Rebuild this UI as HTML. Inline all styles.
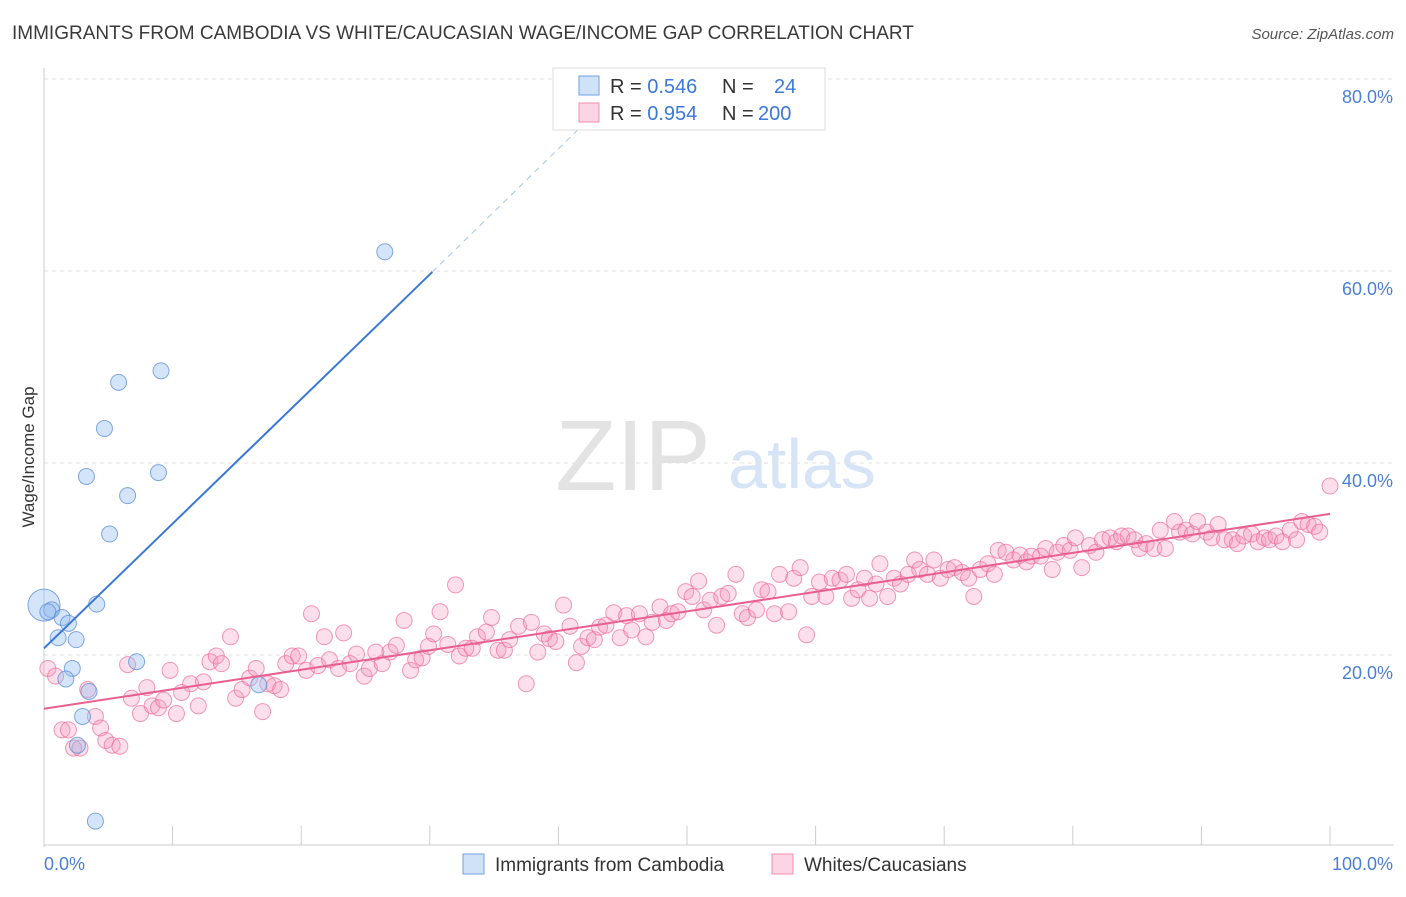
<!DOCTYPE html>
<html><head><meta charset="utf-8"><style>
body{margin:0;background:#fff;font-family:"Liberation Sans",sans-serif;}
svg text{font-family:"Liberation Sans",sans-serif;}
</style></head><body>
<svg id="chart" width="1406" height="892" viewBox="0 0 1406 892">
<text x="12" y="39" font-size="19" fill="#3a3a3a">IMMIGRANTS FROM CAMBODIA VS WHITE/CAUCASIAN WAGE/INCOME GAP CORRELATION CHART</text>
<text x="1394" y="39" font-size="15" font-style="italic" fill="#555" text-anchor="end">Source: ZipAtlas.com</text>
<g>
<text x="633" y="490" font-size="100" font-family="Liberation Serif,serif" fill="#e3e3e3" text-anchor="middle">ZIP</text>
<text x="802" y="488" font-size="70" fill="#d6e4f5" text-anchor="middle">atlas</text>
</g>
<g id="grid"></g>
<g id="axes"></g>
<g id="marks"></g>
<text transform="translate(34,457) rotate(-90)" font-size="17" fill="#333" text-anchor="middle">Wage/Income Gap</text>
<g>
<rect x="553" y="68" width="272" height="62" fill="#fff" stroke="#ddd"/>
<rect x="579" y="76" width="20" height="19" fill="rgba(150,190,240,0.45)" stroke="#6fa0e0"/>
<rect x="579" y="103" width="20" height="19" fill="rgba(244,150,185,0.4)" stroke="#f08cb0"/>
<text x="610" y="93" font-size="20" fill="#333">R = <tspan fill="#3c78d8">0.546</tspan><tspan x="722">N =</tspan><tspan x="774" fill="#3c78d8">24</tspan></text>
<text x="610" y="120" font-size="20" fill="#333">R = <tspan fill="#3c78d8">0.954</tspan><tspan x="722">N =</tspan><tspan x="758" fill="#3c78d8">200</tspan></text>
</g>
<g>
<rect x="463" y="854" width="21" height="20" fill="rgba(150,190,240,0.45)" stroke="#6fa0e0"/>
<text x="495" y="871" font-size="19" fill="#333">Immigrants from Cambodia</text>
<rect x="772" y="854" width="21" height="20" fill="rgba(244,150,185,0.4)" stroke="#f08cb0"/>
<text x="804" y="871" font-size="19" fill="#333">Whites/Caucasians</text>
</g>
</svg>
<script>
const yTicks=[20,40,60,80];
const yTickLabels=["20.0%","40.0%","60.0%","80.0%"];
const xTickLabels=["0.0%","100.0%"];
const blueX=[0,0.6,1.1,1.4,1.9,2.2,1.7,2.5,3.3,4.1,4.7,5.1,5.8,6.5,8.9,9.1,7.2,3.5,3.0,2.6,4.0,16.7,26.5,0.3];
const blueY=[25.2,24.7,21.8,23.9,23.3,18.6,17.5,21.6,38.6,25.3,43.6,32.6,48.4,36.6,39.0,49.6,19.3,16.2,13.6,10.6,2.7,16.9,62.0,24.5];
const pinkX=[0.3,0.9,1.4,1.9,2.3,2.8,3.4,4.0,4.4,4.8,5.3,5.9,6.5,6.8,7.5,8.0,8.4,8.9,9.3,9.8,10.3,10.7,11.4,12.0,12.4,12.9,13.4,13.8,14.5,14.9,15.4,16.0,16.5,17.0,17.4,17.9,18.4,18.8,19.3,19.8,20.4,20.8,21.3,21.8,22.2,22.9,23.3,23.8,24.3,24.9,25.3,25.8,26.3,26.9,27.4,28.0,28.5,28.9,29.4,29.9,30.3,30.8,31.4,32.0,32.3,32.8,33.3,33.7,34.4,34.8,35.3,35.8,36.2,36.9,37.5,37.9,38.4,38.9,39.3,39.8,40.4,40.9,41.4,41.8,42.3,42.8,43.2,43.7,44.3,44.8,45.3,45.7,46.3,46.8,47.3,47.9,48.4,48.8,49.3,49.9,50.4,50.9,51.3,51.8,52.3,52.7,53.2,53.8,54.3,54.7,55.4,55.8,56.3,56.8,57.2,57.9,58.3,58.8,59.3,59.7,60.3,60.8,61.3,61.9,62.4,62.8,63.3,63.8,64.2,64.7,65.0,65.6,66.1,66.6,67.2,67.7,68.1,68.7,69.2,69.7,70.3,70.8,71.4,71.9,72.3,72.8,73.4,73.9,74.2,74.8,75.4,75.9,76.4,76.8,77.5,77.9,78.4,78.8,79.3,79.8,80.2,80.7,81.3,81.8,82.3,82.9,83.4,83.8,84.3,84.8,85.2,85.7,86.3,86.8,87.2,87.9,88.3,88.8,89.3,89.7,90.4,90.8,91.3,91.8,92.4,92.8,93.3,93.9,94.4,94.9,95.3,95.8,96.3,96.9,97.4,97.8,98.3,98.8,99.2,100];
const pinkY=[18.6,17.8,12.2,12.2,10.3,10.3,16.4,13.6,12.4,11.1,10.6,10.5,19.0,15.5,13.9,16.6,14.7,14.5,15.3,18.4,13.9,16.1,17.0,14.7,17.2,19.3,19.9,19.1,21.9,15.5,16.4,17.6,18.6,14.1,17.0,16.8,16.4,19.1,19.9,19.9,18.4,24.3,18.9,21.9,19.5,18.6,22.3,19.1,20.1,17.8,18.6,20.3,19.1,20.3,21.0,23.6,18.4,19.5,19.7,20.9,22.2,24.5,21.1,27.3,19.9,20.7,20.7,21.9,22.4,23.9,20.5,20.5,21.6,23.0,17.0,23.4,20.3,22.2,21.7,21.4,25.2,23.0,19.2,20.9,21.8,21.6,22.9,23.1,24.4,21.8,24.1,22.6,24.3,21.9,23.4,25.0,23.6,24.3,24.5,26.6,26.1,27.7,24.7,25.7,23.1,26.1,26.4,28.4,24.3,23.9,24.7,26.8,26.6,24.3,28.4,24.5,28.0,29.1,22.1,26.1,27.6,26.1,28.0,27.8,28.4,25.9,26.8,28.0,25.9,27.4,29.5,26.1,28.0,27.4,28.4,29.9,28.9,28.4,29.9,28.0,28.9,29.1,28.6,28.0,26.1,28.9,29.5,28.4,30.9,30.7,29.9,30.4,29.7,30.3,30.3,31.1,28.9,30.7,31.4,30.9,32.2,29.1,31.4,30.7,32.0,32.2,31.8,32.4,32.4,32.0,31.1,31.6,31.1,33.0,31.1,33.9,32.8,33.0,32.6,33.9,32.8,32.2,33.6,32.0,32.0,31.6,32.4,32.6,31.8,32.2,32.0,32.4,31.8,33.0,32.0,33.9,33.6,33.4,32.8,37.6];
const blueLine=[0,20.7,30.2,59.9];
const blueDash=[30.2,59.9,42.5,76.0];
const pinkLine=[0,14.4,100,34.7];

const NS="http://www.w3.org/2000/svg";
const X0=44,X1=1330,Y0=847,PX=9.6;
const sx=v=>X0+(X1-X0)*v/100, sy=v=>Y0-v*PX;
function mk(tag,at,parent){const e=document.createElementNS(NS,tag);for(const k in at)e.setAttribute(k,at[k]);parent.appendChild(e);return e;}
const grid=document.getElementById('grid'),axes=document.getElementById('axes'),marks=document.getElementById('marks');
yTicks.forEach((t,i)=>{
 const l=mk('line',{x1:X0,x2:1394,y1:sy(t),y2:sy(t),stroke:'#e2e2e2','stroke-dasharray':'4,4'},grid);
 
 
 const tx=mk('text',{x:1393,y:sy(t)+24,'font-size':18,fill:'#4a7fd4','text-anchor':'end'},axes);
 tx.textContent=yTickLabels[i];
 
 
});
mk('line',{x1:X0,x2:X0,y1:68,y2:Y0,stroke:'#ccc'},axes);
mk('line',{x1:X0,x2:1394,y1:845,y2:845,stroke:'#ccc'},axes);
for(let i=0;i<=10;i++){const x=sx(i*10);mk('line',{x1:x,x2:x,y1:826,y2:845,stroke:'#ccc'},axes);}
const xl0=mk('text',{x:44,y:870,'font-size':18,fill:'#4a7fd4'},axes);xl0.textContent=xTickLabels[0];


const xl1=mk('text',{x:1393,y:870,'font-size':18,fill:'#4a7fd4','text-anchor':'end'},axes);xl1.textContent=xTickLabels[1];


pinkX.forEach((v,i)=>{
 const c=mk('circle',{cx:sx(v),cy:sy(pinkY[i]),r:8,fill:'rgba(244,150,185,0.3)',stroke:'rgba(236,110,155,0.7)','stroke-width':1},marks);
 
 
});
blueX.forEach((v,i)=>{
 const c=mk('circle',{cx:sx(v),cy:sy(blueY[i]),r:i===0?16:8,fill:'rgba(150,190,240,0.4)',stroke:'rgba(90,140,215,0.75)','stroke-width':1},marks);
 
 
});
const bl=mk('line',{x1:sx(blueLine[0]),y1:sy(blueLine[1]),x2:sx(blueLine[2]),y2:sy(blueLine[3]),stroke:'#3c78d8','stroke-width':2},marks);


const bd=mk('line',{x1:sx(blueDash[0]),y1:sy(blueDash[1]),x2:sx(blueDash[2]),y2:sy(blueDash[3]),stroke:'#a9c3ea','stroke-width':1,'stroke-dasharray':'6,5'},marks);


const pl=mk('line',{x1:sx(pinkLine[0]),y1:sy(pinkLine[1]),x2:sx(pinkLine[2]),y2:sy(pinkLine[3]),stroke:'#e8608f','stroke-width':2},marks);


</script>
</body></html>
